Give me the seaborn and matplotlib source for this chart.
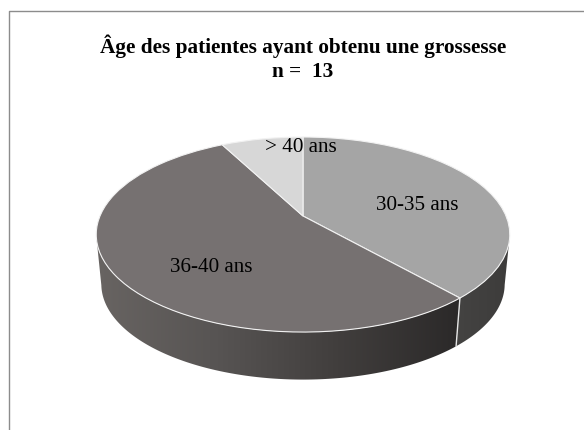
import numpy as np
import matplotlib
matplotlib.use('Agg')
import matplotlib.pyplot as plt
from matplotlib.colors import LinearSegmentedColormap
from matplotlib.patches import Polygon
from matplotlib.transforms import Transform
import seaborn as sns

# patient counts per age group, n = 13
categories = ['30-35 ans', '36-40 ans', '> 40 ans']
counts = [5, 7, 1]
title = 'Âge des patientes ayant obtenu une grossesse\nn =  13'

sns.set_theme(style='white')
plt.rcParams['font.family'] = ['Liberation Serif', 'DejaVu Serif']

top_colors = sns.color_palette(['#a5a5a5', '#767171', '#d7d7d7'])
K = 0.19  # perspective: far side of the disc looks smaller


def project(x, y, a, b, y0):
    w = 1 + K * y
    return 303 + a * x / w, y0 - b * y / w


class DiscTransform(Transform):
    input_dims = 2
    output_dims = 2
    is_separable = False
    has_inverse = False

    def transform_non_affine(self, values):
        px, py = project(values[:, 0], values[:, 1], 203, 94, 216)
        return np.column_stack([px, py])


fig, ax = plt.subplots(figsize=(5.84, 4.30), dpi=100)
fig.subplots_adjust(0, 0, 1, 1)

wedges, _ = ax.pie(counts, colors=top_colors, startangle=90, counterclock=False,
                   wedgeprops=dict(edgecolor='#f2f2f2', linewidth=0.8))
disc = DiscTransform() + ax.transData
for w in wedges:
    w.set_transform(disc)
    w.set_zorder(3)

# side wall of the disc, one piece per slice, only the part facing us
wall_cmaps = [
    LinearSegmentedColormap.from_list('w0', ['#444342', '#3d3c3b']),
    LinearSegmentedColormap.from_list('w1', ['#686462', '#575453', '#413e3d', '#2b2929']),
]
for w, cmap in zip(wedges[:2], wall_cmaps):
    t = np.radians(np.linspace(w.theta1, w.theta2, 300))
    t = t[np.sin(t) <= -K]
    tx, ty = project(np.cos(t), np.sin(t), 203, 94, 216)
    bx, by = project(np.cos(t), np.sin(t), 198, 92, 266)
    wall = Polygon(np.column_stack([np.r_[tx, bx[::-1]], np.r_[ty, by[::-1]]]),
                   closed=True, facecolor='none', edgecolor='none')
    ax.add_patch(wall)
    img = ax.imshow(np.linspace(0, 1, 256)[None, :], cmap=cmap, aspect='auto',
                    extent=[min(tx.min(), bx.min()), max(tx.max(), bx.max()), 400, 200], zorder=1)
    img.set_clip_path(wall)

# white separator on the wall where the first two slices meet
t0 = np.radians(wedges[0].theta1)
sx0, sy0 = project(np.cos(t0), np.sin(t0), 203, 94, 216)
sx1, sy1 = project(np.cos(t0), np.sin(t0), 198, 92, 266)
ax.plot([sx0, sx1], [sy0, sy1], color='#e6e6e6', lw=1.0, zorder=2)

# chart frame, open on the right and at the bottom
ax.plot([9, 9, 584], [430, 10.5, 10.5], color='#8c8c8c', lw=1.0, zorder=4, clip_on=False)

ax.set_aspect('auto')
ax.set_xlim(0, 584)
ax.set_ylim(430, 0)
ax.axis('off')

label_pos = [(417, 206), (211, 267), (301, 147)]
for name, (lx, ly) in zip(categories, label_pos):
    ax.text(lx, ly, name, ha='center', va='center', fontsize=15.2, color='black', zorder=5)

ax.text(303, 58, title, ha='center', va='center', fontsize=15.3, fontweight='bold',
        color='black', linespacing=1.25, zorder=5)

fig.savefig('out.png', dpi=100)
